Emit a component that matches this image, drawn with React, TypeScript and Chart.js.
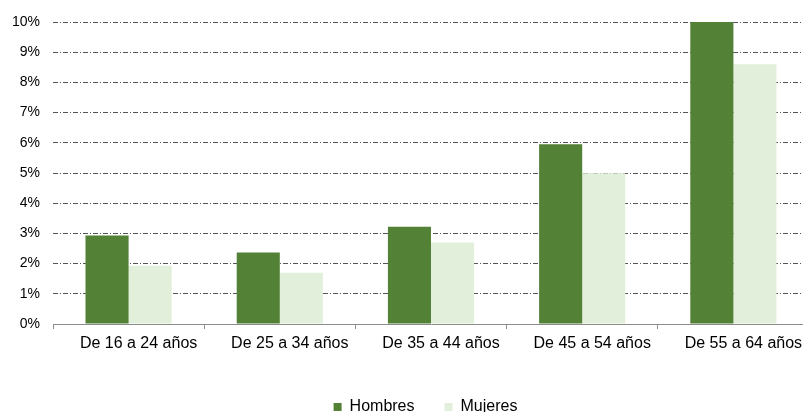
import React, { useEffect, useRef } from "react";
import { Chart, registerables } from "chart.js";

Chart.register(...registerables);

const categories = ["De 16 a 24 años", "De 25 a 34 años", "De 35 a 44 años", "De 45 a 54 años", "De 55 a 64 años"];
const hombres = [2.93, 2.37, 3.22, 5.95, 10.0];
const mujeres = [1.93, 1.7, 2.7, 4.99, 8.6];
const yTicks = [0, 1, 2, 3, 4, 5, 6, 7, 8, 9, 10];

const shiftLegend = {
  id: "shiftLegend",
  afterUpdate(chart: any) {
    const lg = chart.legend;
    if (lg) {
      lg.left += 21;
      lg.right += 21;
    }
  },
};

export default function App() {
  const ref = useRef<HTMLCanvasElement>(null);
  useEffect(() => {
    document.body.style.margin = "0";
    document.body.style.overflow = "hidden";
    const ctx = ref.current!;
    const fam = "'Liberation Sans', Arial, sans-serif";
    const font14 = { family: fam, size: 14 };
    const font16 = { family: fam, size: 16 };
    const chart = new Chart(ctx, {
      type: "bar",
      data: {
        labels: categories,
        datasets: [
          { label: "Hombres", data: hombres, backgroundColor: "#538135", borderWidth: 0 },
          { label: "Mujeres", data: mujeres, backgroundColor: "#E2EFDA", borderWidth: 0 },
        ],
      },
      options: {
        animation: false,
        responsive: false,
        maintainAspectRatio: false,
        layout: { padding: { top: 22, right: 0, left: 0, bottom: -13 } },
        datasets: { bar: { categoryPercentage: 0.57, barPercentage: 1 } },
        plugins: {
          tooltip: { enabled: false },
          legend: {
            position: "bottom",
            labels: {
              font: font16,
              color: "#000",
              boxWidth: 8,
              boxHeight: 8,
              padding: 30,
            },
          },
        },
        scales: {
          x: {
            grid: { display: true, drawOnChartArea: false, drawTicks: true, tickLength: 5, color: "#8c8c8c" },
            border: { display: true, color: "#8c8c8c", width: 1 },
            ticks: { font: font16, color: "#000", padding: 5, maxRotation: 0, labelOffset: 10 },
            afterFit: (s: any) => {
              s.height = 45;
              s.paddingRight = 0;
              s.paddingLeft = 0;
            },
          },
          y: {
            min: 0,
            max: 10,
            afterBuildTicks: (s: any) => { s.ticks = yTicks.map((v) => ({ value: v })); },
            grid: { color: "#555555", drawTicks: false, lineWidth: 1 },
            border: { display: false, dash: [5, 2, 1, 2] },
            ticks: { font: font14, color: "#000", padding: 13, callback: (v: any) => v + "%" },
            afterFit: (s: any) => { s.width = 53; },
          },
        },
      },
      plugins: [shiftLegend],
    } as any);
    return () => chart.destroy();
  }, []);
  return (
    <div style={{ width: 803, height: 412, overflow: "hidden" }}>
      <canvas ref={ref} width={809} height={412} style={{ display: "block" }} />
    </div>
  );
}
